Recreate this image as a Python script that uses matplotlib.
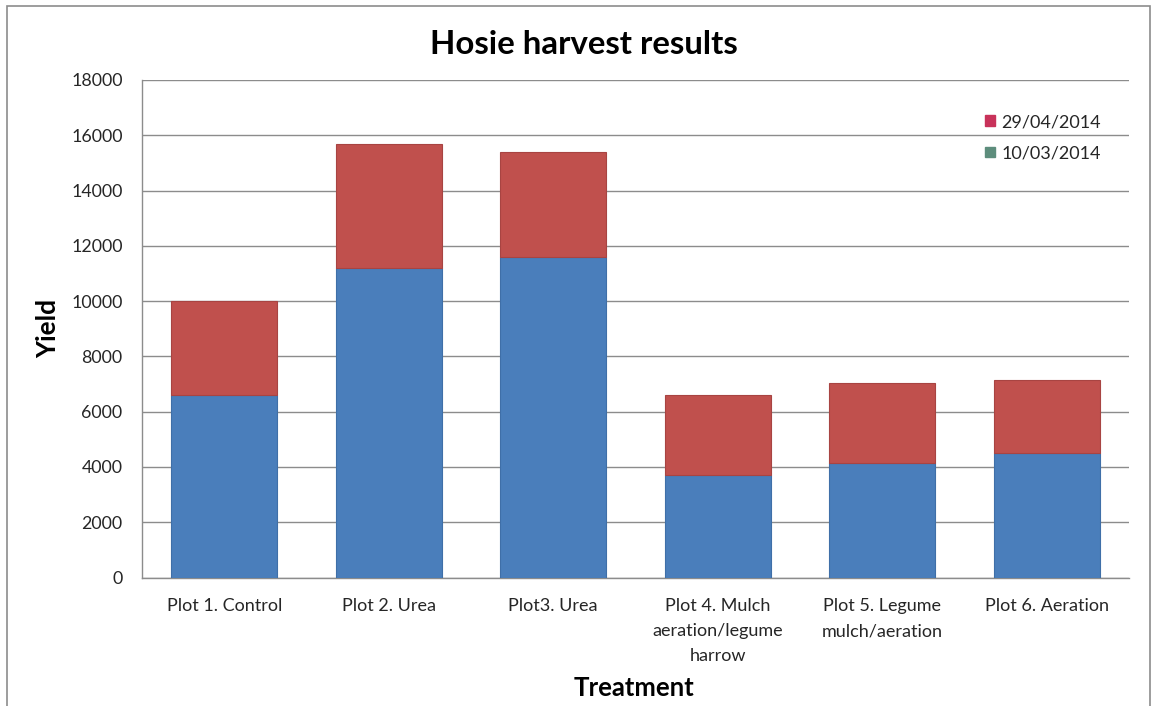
import numpy as np
import matplotlib
matplotlib.use("Agg")
import matplotlib.pyplot as plt
from matplotlib.patches import Patch, Rectangle

plt.rcParams["font.family"] = ["Lato", "DejaVu Sans"]

# harvest yields per plot, two harvest dates stacked
treatments = ["Plot 1. Control", "Plot 2. Urea", "Plot3. Urea",
              "Plot 4. Mulch\naeration/legume\nharrow",
              "Plot 5. Legume\nmulch/aeration", "Plot 6. Aeration"]
yield_mar = [6600, 11200, 11600, 3700, 4130, 4500]     # 10/03/2014
yield_apr = [3400, 4500, 3800, 2900, 2920, 2650]       # 29/04/2014
series_names = ["29/04/2014", "10/03/2014"]

fig = plt.figure(figsize=(11.53, 7.06), dpi=100)
ax = fig.add_axes([142 / 1153, 1 - 577.5 / 706, 987 / 1153, 497.5 / 706])

x = np.arange(len(treatments))
w = 0.645
ax.bar(x, yield_mar, w, color="#4a7ebb", edgecolor="#3f6fa8", linewidth=0.8, zorder=3)
ax.bar(x, yield_apr, w, bottom=yield_mar, color="#c0504d", edgecolor="#a84442",
       linewidth=0.8, zorder=3)

ax.set_xlim(-0.5, len(treatments) - 0.5)
ax.set_ylim(0, 18000)
ax.set_yticks(np.arange(0, 18001, 2000))
ax.set_xticks(x)
ax.set_xticklabels(treatments, fontsize=13, color="#262626", linespacing=1.68)
ax.tick_params(axis="y", labelsize=12.8, labelcolor="#262626", length=0, pad=14)
ax.tick_params(axis="x", length=0, pad=15)
ax.grid(axis="y", color="#8c8c8c", linewidth=1, zorder=0)

for s in ["top", "right"]:
    ax.spines[s].set_visible(False)
for s in ["left", "bottom"]:
    ax.spines[s].set_color("#8c8c8c")
    ax.spines[s].set_linewidth(1)

ax.set_ylabel("Yield", fontsize=19, fontweight="bold")
ax.yaxis.set_label_coords(-82 / 987, 0.5)
fig.text(634 / 1153, 1 - 688 / 706, "Treatment", fontsize=18.5, fontweight="bold",
         ha="center", va="center")
fig.text(584 / 1153, 1 - 45 / 706, "Hosie harvest results", fontsize=23.8,
         fontweight="bold", ha="center", va="center")

handles = [Patch(color="#c8325a"), Patch(color="#5d8d7c")]
ax.legend(handles, series_names, frameon=False, fontsize=13, handlelength=0.55,
          handleheight=0.55, handletextpad=0.35, labelspacing=0.85,
          loc="upper left", bbox_to_anchor=(843 / 987, 1 - 34 / 497.5),
          borderaxespad=0, borderpad=0, labelcolor="#262626")

# outer chart border
fig.add_artist(Rectangle((7 / 1153, -0.05), 1143 / 1153, 1.05 - 6 / 706,
                         transform=fig.transFigure, fill=False,
                         edgecolor="#8c8c8c", linewidth=1.2))

fig.savefig("out.png", dpi=100)
